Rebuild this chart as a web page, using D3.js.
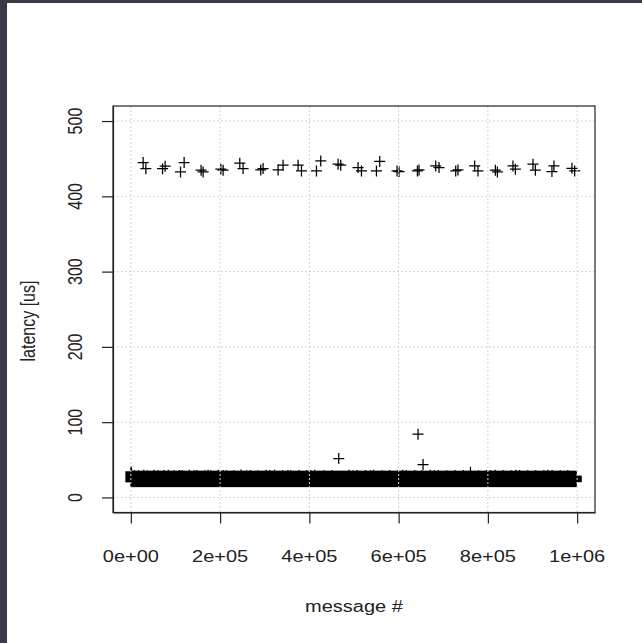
<!DOCTYPE html>
<html>
<head>
<meta charset="utf-8">
<script src="https://cdn.jsdelivr.net/npm/d3@7"></script>
<style>
  html, body { margin: 0; padding: 0; background: #fff; }
  svg { display: block; }
  text { font-family: "Liberation Sans", Arial, Helvetica, sans-serif; fill: #222; }
</style>
</head>
<body>
<svg id="chart" width="642" height="643"></svg>
<script>
// Axis ticks
const xTicks = [0, 200000, 400000, 600000, 800000, 1000000];
const xTickLabels = ["0e+00", "2e+05", "4e+05", "6e+05", "8e+05", "1e+06"];
const yTicks = [0, 100, 200, 300, 400, 500];
const yTickLabels = ["0", "100", "200", "300", "400", "500"];

// Bulk of the messages: per-range latency envelope (us)
const bandStart = [0, 1500];
const bandEnd = [1500, 998000];
const bandLow = [21, 21];
const bandHigh = [34, 28.3];

// Messages sitting just above the bulk envelope
const raggedMsg = [8000, 17000, 29000, 37000, 52000, 61000, 74000, 84000, 97000, 109000,
  115000, 131000, 142000, 148000, 166000, 173000, 179000, 196000, 207000, 214000,
  231000, 247000, 259000, 268000, 285000, 303000, 311000, 322000, 340000, 352000,
  358000, 377000, 394000, 403000, 412000, 433000, 451000, 489000, 498000, 507000,
  526000, 537000, 544000, 563000, 580000, 598000, 609000, 617000, 636000, 652000,
  671000, 680000, 689000, 708000, 726000, 745000, 761000, 779000, 797000, 806000,
  816000, 834000, 852000, 863000, 871000, 889000, 907000, 925000, 934000, 944000,
  962000, 979000];
const raggedLatency = [29.2, 28.8, 29.6, 28.9, 29.4, 28.7, 29.1, 29.5, 28.8, 29.3,
  29.0, 29.6, 28.8, 29.2, 28.9, 29.4, 28.7, 29.5, 29.0, 28.8,
  29.3, 29.7, 28.9, 29.1, 28.8, 29.4, 29.0, 29.6, 28.9, 29.2,
  28.7, 29.3, 29.0, 28.8, 29.5, 28.9, 29.2, 29.4, 28.8, 29.0,
  29.3, 28.7, 29.6, 28.9, 29.1, 28.8, 29.4, 29.0, 29.2, 28.8,
  29.5, 28.9, 29.1, 28.7, 29.3, 29.0, 33.5, 28.9, 29.2, 28.8,
  29.4, 29.0, 28.8, 29.5, 29.1, 28.9, 29.3, 28.8, 29.6, 29.0,
  28.9, 29.2];

// Isolated slow messages
const outlierMsg = [465800, 643500, 654700];
const outlierLatency = [51.6, 84.0, 43.6];

// Periodic slow messages near 440 us
const highMsg = [27500, 33600, 71000, 76800, 119400, 111300, 157400, 161900, 201600, 206700,
  244100, 251500, 291100, 296300, 341100, 329900, 374700, 382300, 425500, 415900,
  464300, 470300, 509100, 516700, 557700, 550300, 596400, 600900, 642100, 645700,
  683100, 690500, 727900, 733000, 770400, 777800, 816800, 821300, 856200, 861600,
  901000, 906400, 948000, 943500, 988400, 994400];
const highLatency = [444.9, 436.7, 436.7, 440.0, 444.9, 432.4, 434.7, 432.4, 436.0, 434.7,
  444.0, 436.9, 435.1, 436.9, 441.3, 435.1, 441.3, 433.7, 447.1, 433.7,
  442.7, 441.3, 438.3, 433.7, 446.3, 433.7, 433.7, 432.9, 433.7, 435.1,
  440.4, 438.3, 433.7, 435.1, 440.4, 433.7, 434.7, 432.4, 440.4, 436.0,
  442.7, 434.7, 440.4, 432.9, 437.3, 433.7];

const svg = d3.select("#chart");
const box = { left: 113, right: 595, top: 106, bottom: 512.5 };

const x = d3.scaleLinear().domain([-40000, 1040000]).range([box.left, box.right]);
const y = d3.scaleLinear().domain([-20, 520]).range([box.bottom, box.top]);

// window frame edges
svg.append("rect").attr("x", 0).attr("y", 0).attr("width", 7).attr("height", 643).attr("fill", "#3a3947");
svg.append("rect").attr("x", 0).attr("y", 0).attr("width", 642).attr("height", 3).attr("fill", "#3a3947");

const h = 5.5; // half arm length of the "+" glyph
const plus = (cx, cy) => `M${cx - h},${cy}H${cx + h}M${cx},${cy - h}V${cy + h}`;

const marks = svg.append("g");

// bulk band: union of many "+" glyphs -> vertical arms and horizontal arms
const bands = d3.range(bandStart.length).map(i => ({
  s: bandStart[i], e: bandEnd[i], lo: bandLow[i], hi: bandHigh[i]
}));
marks.selectAll("rect.varm").data(bands).join("rect")
  .attr("x", d => x(d.s) - 0.6)
  .attr("width", d => x(d.e) - x(d.s) + 1.2)
  .attr("y", d => y(d.hi) - h)
  .attr("height", d => y(d.lo) - y(d.hi) + 2 * h)
  .attr("fill", "#000");
marks.selectAll("rect.harm").data(bands).join("rect")
  .attr("x", d => x(d.s) - h)
  .attr("width", d => x(d.e) - x(d.s) + 2 * h)
  .attr("y", d => y(d.hi) - 0.6)
  .attr("height", d => y(d.lo) - y(d.hi) + 1.2)
  .attr("fill", "#000");

const pts = [];
raggedMsg.forEach((m, i) => pts.push([m, raggedLatency[i]]));
outlierMsg.forEach((m, i) => pts.push([m, outlierLatency[i]]));
highMsg.forEach((m, i) => pts.push([m, highLatency[i]]));

marks.selectAll("path.pt").data(pts).join("path")
  .attr("d", d => plus(x(d[0]), y(d[1])))
  .attr("fill", "none")
  .attr("stroke", "#000")
  .attr("stroke-width", 1.25);

// dotted grid drawn over the points
const grid = svg.append("g").attr("stroke", "#d3d3d3").attr("stroke-width", 1).attr("stroke-dasharray", "2,2");
grid.selectAll("line.gx").data(xTicks).join("line")
  .attr("x1", d => x(d)).attr("x2", d => x(d))
  .attr("y1", box.top).attr("y2", box.bottom);
grid.selectAll("line.gy").data(yTicks).join("line")
  .attr("x1", box.left).attr("x2", box.right)
  .attr("y1", d => y(d)).attr("y2", d => y(d));

// plot frame
svg.append("rect")
  .attr("x", box.left).attr("y", box.top)
  .attr("width", box.right - box.left).attr("height", box.bottom - box.top)
  .attr("fill", "none").attr("stroke", "#222").attr("stroke-width", 1.2);

// axes
const xAxis = d3.axisBottom(x).tickValues(xTicks).tickFormat((d, i) => xTickLabels[i])
  .tickSizeInner(11).tickSizeOuter(0);
const gx = svg.append("g").attr("transform", `translate(0,${box.bottom})`).call(xAxis);
gx.select(".domain").attr("stroke", "#222").attr("stroke-width", 1.2);
gx.selectAll(".tick line").attr("stroke", "#222").attr("stroke-width", 1.2);
gx.selectAll(".tick text").remove();

const yAxis = d3.axisLeft(y).tickValues(yTicks).tickFormat((d, i) => yTickLabels[i])
  .tickSizeInner(11).tickSizeOuter(0);
const gy = svg.append("g").attr("transform", `translate(${box.left},0)`).call(yAxis);
gy.select(".domain").attr("stroke", "#222").attr("stroke-width", 1.2);
gy.selectAll(".tick line").attr("stroke", "#222").attr("stroke-width", 1.2);
gy.selectAll(".tick text").remove();

// tick labels
svg.append("g").selectAll("text").data(xTicks).join("text")
  .attr("transform", d => `translate(${x(d)},562) scale(1.25,1)`)
  .attr("text-anchor", "middle")
  .attr("font-size", 16)
  .text((d, i) => xTickLabels[i]);

svg.append("g").selectAll("text").data(yTicks).join("text")
  .attr("transform", d => `translate(82,${y(d)}) scale(1.25,1) rotate(-90)`)
  .attr("text-anchor", "middle")
  .attr("font-size", 16)
  .text((d, i) => yTickLabels[i]);

// axis titles
svg.append("text")
  .attr("transform", `translate(${(box.left + box.right) / 2},612) scale(1.25,1)`)
  .attr("text-anchor", "middle")
  .attr("font-size", 16)
  .text("message #");

svg.append("text")
  .attr("transform", `translate(35,321) scale(1.25,1) rotate(-90)`)
  .attr("text-anchor", "middle")
  .attr("font-size", 16)
  .text("latency [us]");
</script>
</body>
</html>
